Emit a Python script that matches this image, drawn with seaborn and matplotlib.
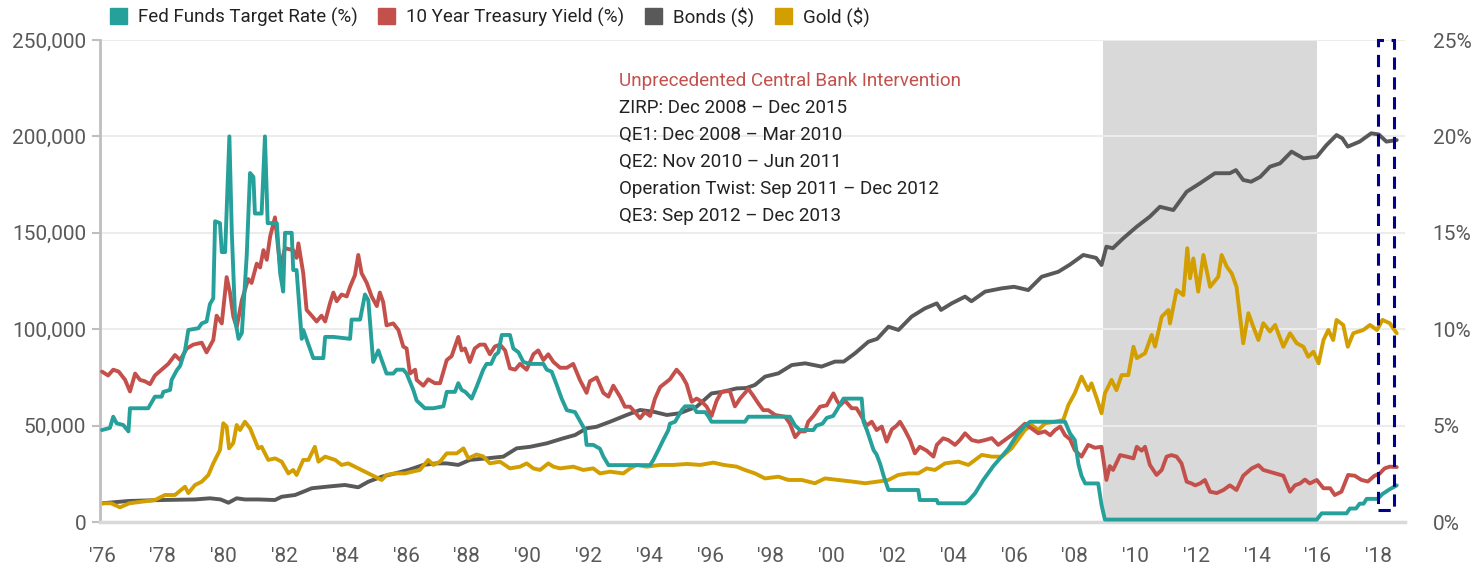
import numpy as np
import pandas as pd
import seaborn as sns
import matplotlib.pyplot as plt
from matplotlib.patches import Patch, Rectangle
from matplotlib.ticker import FuncFormatter

# ---- data (year as decimal) ----
fed_t = [1976.0, 1976.26, 1976.37, 1976.48, 1976.7, 1976.87, 1976.92, 1977.52, 1977.74, 1977.96,
         1978.02, 1978.24, 1978.29, 1978.46, 1978.57, 1978.73, 1978.84, 1979.17, 1979.28, 1979.44,
         1979.55, 1979.66, 1979.72, 1979.88, 1979.94, 1980.05, 1980.19, 1980.27, 1980.38, 1980.49,
         1980.6, 1980.76, 1980.87, 1980.98, 1981.03, 1981.25, 1981.36, 1981.45, 1981.75, 1981.86,
         1981.96, 1982.02, 1982.24, 1982.29, 1982.4, 1982.57, 1982.62, 1982.95, 1983.28, 1983.34,
         1983.61, 1984.16, 1984.21, 1984.49, 1984.65, 1984.76, 1984.92, 1985.09, 1985.2, 1985.36,
         1985.58, 1985.69, 1985.91, 1986.02, 1986.24, 1986.35, 1986.62, 1986.9, 1987.23, 1987.34,
         1987.61, 1987.72, 1987.83, 1987.95, 1988.16, 1988.32, 1988.54, 1988.65, 1988.8, 1988.93,
         1989.04, 1989.15, 1989.42, 1989.53, 1989.7, 1989.86, 1990.08, 1990.52, 1990.63, 1990.79,
         1990.96, 1991.12, 1991.29, 1991.56, 1991.72, 1991.89, 1991.94, 1992.16, 1992.38, 1992.49,
         1992.66, 1994.03, 1994.13, 1994.3, 1994.46, 1994.63, 1994.68, 1994.85, 1995.07, 1995.18,
         1995.45, 1995.56, 1995.84, 1995.94, 1996.05, 1997.15, 1997.26, 1998.63, 1998.8, 1998.96,
         1999.4, 1999.5, 1999.7, 1999.84, 2000.05, 2000.17, 2000.39, 2000.99, 2001.05, 2001.16,
         2001.27, 2001.38, 2001.48, 2001.6, 2001.71, 2001.87, 2002.85, 2002.9, 2003.46, 2003.5,
         2004.39, 2004.5, 2004.72, 2004.99, 2005.32, 2005.54, 2005.81, 2006.09, 2006.36, 2006.53,
         2007.68, 2007.84, 2008.0, 2008.12, 2008.22, 2008.34, 2008.77, 2008.88, 2008.99, 2015.96,
         2016.12, 2016.94, 2017.05, 2017.25, 2017.37, 2017.5, 2017.6, 2017.96, 2018.12, 2018.36,
         2018.59]
fed_rate = [4.77, 4.88, 5.46, 5.12, 5.03, 4.7, 5.9, 5.9, 6.5, 6.5,
            6.75, 6.85, 7.37, 7.87, 8.1, 8.9, 9.96, 10.05, 10.3, 10.4,
            11.3, 11.6, 15.6, 15.5, 14.0, 14.0, 20.0, 15.0, 10.5, 9.5,
            9.8, 13.8, 18.1, 17.9, 16.0, 16.0, 20.0, 15.5, 15.5, 12.9,
            11.95, 15.0, 15.0, 13.07, 13.07, 9.5, 9.96, 8.5, 8.5, 9.6,
            9.6, 9.5, 10.5, 10.5, 11.8, 11.5, 8.3, 8.9, 8.4, 7.7,
            7.7, 7.9, 7.9, 7.7, 6.85, 6.3, 5.9, 5.9, 6.0, 6.75,
            6.75, 7.2, 6.85, 6.75, 6.4, 7.0, 7.9, 8.2, 8.2, 8.65,
            8.8, 9.7, 9.7, 9.0, 8.8, 8.3, 8.2, 8.2, 7.9, 7.8,
            7.1, 6.4, 5.8, 5.7, 5.25, 4.77, 4.0, 4.0, 3.8, 3.4,
            2.95, 2.95, 3.2, 3.73, 4.25, 4.77, 5.1, 5.2, 5.8, 6.0,
            6.0, 5.7, 5.7, 5.5, 5.2, 5.2, 5.46, 5.46, 5.0, 4.77,
            4.77, 5.0, 5.1, 5.4, 5.5, 5.8, 6.4, 6.4, 5.2, 4.77,
            4.25, 3.73, 3.5, 3.0, 2.4, 1.66, 1.66, 1.14, 1.14, 0.97,
            0.97, 1.1, 1.49, 2.18, 2.9, 3.3, 3.8, 4.5, 5.0, 5.2,
            5.2, 4.6, 4.25, 3.0, 2.4, 2.0, 2.0, 0.88, 0.125, 0.125,
            0.45, 0.45, 0.7, 0.7, 0.95, 0.95, 1.2, 1.2, 1.45, 1.7,
            1.9]

tsy_t = [1976.0, 1976.2, 1976.37, 1976.55, 1976.76, 1976.92, 1977.09, 1977.25, 1977.41, 1977.58,
         1977.74, 1977.96, 1978.18, 1978.4, 1978.57, 1978.79, 1979.0, 1979.28, 1979.44, 1979.66,
         1979.77, 1979.94, 1980.1, 1980.21, 1980.32, 1980.43, 1980.6, 1980.81, 1980.92, 1981.09,
         1981.2, 1981.31, 1981.42, 1981.53, 1981.69, 1981.86, 1982.02, 1982.29, 1982.4, 1982.46,
         1982.62, 1982.73, 1982.9, 1983.06, 1983.22, 1983.34, 1983.5, 1983.61, 1983.72, 1983.88,
         1984.05, 1984.16, 1984.32, 1984.43, 1984.54, 1984.71, 1984.87, 1985.04, 1985.14, 1985.25,
         1985.36, 1985.58, 1985.75, 1985.91, 1986.02, 1986.13, 1986.3, 1986.35, 1986.57, 1986.73,
         1986.95, 1987.12, 1987.34, 1987.5, 1987.72, 1987.83, 1987.94, 1988.1, 1988.26, 1988.43,
         1988.59, 1988.76, 1988.92, 1989.09, 1989.26, 1989.42, 1989.59, 1989.75, 1989.97, 1990.19,
         1990.35, 1990.52, 1990.68, 1990.85, 1991.07, 1991.29, 1991.5, 1991.72, 1991.94, 1992.05,
         1992.27, 1992.49, 1992.66, 1992.82, 1993.04, 1993.2, 1993.37, 1993.53, 1993.7, 1993.86,
         1994.03, 1994.19, 1994.36, 1994.52, 1994.68, 1994.9, 1995.07, 1995.23, 1995.4, 1995.56,
         1995.73, 1995.89, 1996.05, 1996.22, 1996.38, 1996.65, 1996.82, 1996.99, 1997.26, 1997.4,
         1997.59, 1997.75, 1997.92, 1998.14, 1998.47, 1998.63, 1998.8, 1998.96, 1999.13, 1999.23,
         1999.4, 1999.62, 1999.84, 2000.06, 2000.17, 2000.28, 2000.44, 2000.66, 2000.82, 2000.99,
         2001.15, 2001.32, 2001.48, 2001.65, 2001.81, 2001.98, 2002.14, 2002.25, 2002.41, 2002.58,
         2002.74, 2002.9, 2003.13, 2003.35, 2003.46, 2003.67, 2003.84, 2004.06, 2004.22, 2004.39,
         2004.61, 2004.83, 2005.05, 2005.27, 2005.48, 2005.7, 2005.92, 2006.09, 2006.36, 2006.58,
         2006.8, 2007.02, 2007.19, 2007.35, 2007.52, 2007.68, 2007.84, 2008.0, 2008.22, 2008.44,
         2008.66, 2008.88, 2009.04, 2009.15, 2009.26, 2009.49, 2009.71, 2009.93, 2010.04, 2010.2,
         2010.31, 2010.47, 2010.69, 2010.86, 2011.02, 2011.18, 2011.35, 2011.51, 2011.68, 2011.84,
         2011.96, 2012.12, 2012.28, 2012.45, 2012.67, 2012.89, 2013.1, 2013.32, 2013.54, 2013.82,
         2014.04, 2014.2, 2014.42, 2014.64, 2014.86, 2015.08, 2015.24, 2015.41, 2015.57, 2015.73,
         2015.96, 2016.18, 2016.4, 2016.55, 2016.77, 2016.99, 2017.21, 2017.43, 2017.64, 2017.86,
         2018.02, 2018.19, 2018.36, 2018.59]
tsy_rate = [7.8, 7.6, 7.9, 7.8, 7.37, 6.77, 7.7, 7.37, 7.3, 7.15,
            7.6, 7.9, 8.2, 8.66, 8.4, 9.0, 9.2, 9.3, 8.8, 9.44,
            10.7, 10.3, 12.7, 11.9, 10.65, 10.1, 11.5, 12.6, 12.4, 13.4,
            13.2, 14.1, 13.6, 14.8, 15.8, 13.2, 14.2, 14.1, 13.7, 14.45,
            12.9, 11.0, 10.7, 10.4, 10.7, 10.4, 11.35, 11.9, 11.45, 11.8,
            11.7, 12.2, 12.8, 13.85, 12.9, 12.4, 11.7, 11.2, 11.9, 11.4,
            10.2, 10.3, 9.96, 9.1, 9.0, 7.7, 7.9, 7.37, 7.07, 7.4,
            7.2, 7.2, 8.4, 8.6, 9.6, 8.9, 9.0, 8.3, 9.0, 9.2,
            9.2, 8.7, 9.1, 9.2, 8.9, 7.97, 7.9, 8.2, 7.9, 8.7,
            8.9, 8.4, 8.7, 8.3, 8.0, 8.0, 8.2, 7.37, 6.7, 7.3,
            7.5, 6.7, 6.5, 7.07, 6.5, 5.98, 5.98, 5.7, 5.38, 5.7,
            5.5, 6.4, 7.0, 7.2, 7.4, 7.9, 7.6, 7.15, 6.24, 6.4,
            6.24, 5.98, 5.5, 6.3, 6.75, 6.8, 6.0, 6.4, 6.9, 6.6,
            6.15, 5.8, 5.8, 5.55, 5.46, 5.1, 4.4, 4.7, 4.7, 5.2,
            5.5, 5.98, 6.05, 6.67, 6.3, 6.05, 6.3, 5.9, 5.9, 5.46,
            5.0, 5.2, 4.77, 4.95, 4.17, 4.8, 5.0, 5.2, 4.77, 4.25,
            3.56, 3.9, 3.7, 3.39, 4.0, 4.34, 4.25, 4.0, 4.25, 4.6,
            4.25, 4.17, 4.25, 4.35, 4.0, 4.25, 4.5, 4.7, 5.1, 4.85,
            4.6, 4.7, 4.5, 4.77, 4.95, 4.5, 4.3, 3.73, 3.39, 4.0,
            3.85, 3.9, 2.18, 2.9, 2.7, 3.47, 3.39, 3.3, 3.9, 3.7,
            3.9, 2.96, 2.44, 2.7, 3.39, 3.47, 3.39, 3.04, 2.09, 2.0,
            1.9, 2.0, 2.18, 1.57, 1.5, 1.66, 1.9, 1.66, 2.4, 2.78,
            2.95, 2.7, 2.6, 2.5, 2.4, 1.57, 1.9, 2.0, 2.2, 2.0,
            2.18, 1.75, 1.75, 1.4, 1.57, 2.44, 2.4, 2.18, 2.1, 2.4,
            2.5, 2.78, 2.87, 2.85]

bonds_t = [1976.0, 1976.87, 1977.96, 1979.06, 1979.55, 1979.9, 1980.16, 1980.43, 1980.7, 1981.14,
           1981.69, 1981.91, 1982.35, 1982.62, 1982.9, 1983.45, 1983.99, 1984.43, 1984.76, 1985.2,
           1985.64, 1986.08, 1986.57, 1987.0, 1987.34, 1987.72, 1988.1, 1988.65, 1989.2, 1989.64,
           1990.08, 1990.63, 1991.17, 1991.56, 1991.94, 1992.27, 1992.71, 1993.26, 1993.7, 1994.14,
           1994.58, 1995.0, 1995.56, 1996.05, 1996.4, 1996.88, 1997.2, 1997.48, 1997.81, 1998.25,
           1998.69, 1999.13, 1999.67, 2000.11, 2000.4, 2000.77, 2001.21, 2001.5, 2001.87, 2002.2,
           2002.63, 2003.07, 2003.46, 2003.6, 2003.95, 2004.39, 2004.6, 2005.05, 2005.6, 2006.0,
           2006.47, 2006.91, 2007.46, 2007.84, 2008.28, 2008.7, 2008.88, 2009.04, 2009.25, 2009.59,
           2010.04, 2010.47, 2010.8, 2011.24, 2011.68, 2012.12, 2012.61, 2013.1, 2013.3, 2013.54,
           2013.8, 2014.1, 2014.42, 2014.75, 2015.13, 2015.52, 2015.96, 2016.28, 2016.61, 2016.8,
           2016.98, 2017.37, 2017.75, 2018.0, 2018.25, 2018.59]
bonds_k = [9.7, 10.9, 11.4, 11.7, 12.3, 11.7, 10.0, 12.3, 11.7, 11.7,
           11.4, 13.1, 14.0, 15.7, 17.5, 18.4, 19.2, 18.0, 20.9, 23.5,
           25.2, 27.0, 29.6, 30.4, 30.4, 29.6, 32.2, 33.0, 33.9, 38.2,
           39.0, 40.8, 43.4, 45.1, 48.6, 49.4, 52.0, 55.5, 58.1, 57.2,
           55.5, 56.4, 59.8, 66.7, 67.5, 69.3, 69.5, 71.1, 75.4, 77.1,
           81.4, 82.3, 80.6, 83.2, 83.2, 87.5, 93.5, 95.0, 101.3, 99.6,
           106.5, 110.8, 113.4, 110.0, 113.4, 116.9, 114.5, 119.5, 121.2, 122.0,
           120.3, 127.2, 129.8, 133.5, 138.5, 137.0, 133.3, 142.8, 142.0, 147.1,
           153.2, 158.4, 163.5, 161.8, 171.3, 175.7, 180.9, 180.9, 182.5, 177.4,
           176.5, 179.0, 184.3, 186.0, 192.1, 188.6, 189.4, 195.5, 200.7, 199.0,
           194.7, 197.3, 201.6, 201.0, 197.3, 198.1]

gold_t = [1976.0, 1976.3, 1976.59, 1976.9, 1977.3, 1977.74, 1978.07, 1978.4, 1978.73, 1978.84,
          1979.06, 1979.28, 1979.5, 1979.66, 1979.88, 1979.99, 1980.1, 1980.18, 1980.32, 1980.43,
          1980.54, 1980.7, 1980.87, 1981.03, 1981.14, 1981.25, 1981.47, 1981.69, 1981.91, 1982.13,
          1982.29, 1982.4, 1982.62, 1982.79, 1983.0, 1983.12, 1983.34, 1983.67, 1983.88, 1984.1,
          1984.43, 1984.65, 1984.98, 1985.2, 1985.36, 1985.64, 1985.97, 1986.2, 1986.46, 1986.73,
          1986.9, 1987.12, 1987.34, 1987.67, 1987.89, 1988.05, 1988.32, 1988.54, 1988.76, 1989.09,
          1989.42, 1989.75, 1989.97, 1990.19, 1990.41, 1990.68, 1990.85, 1991.07, 1991.5, 1991.83,
          1992.16, 1992.38, 1992.71, 1993.15, 1993.37, 1993.59, 1993.92, 1994.36, 1994.8, 1995.24,
          1995.68, 1996.11, 1996.45, 1996.88, 1997.15, 1997.48, 1997.81, 1998.25, 1998.58, 1999.02,
          1999.45, 1999.78, 2000.22, 2000.66, 2001.1, 2001.54, 2001.87, 2002.19, 2002.52, 2002.85,
          2003.13, 2003.4, 2003.73, 2004.17, 2004.5, 2004.94, 2005.27, 2005.6, 2005.92, 2006.36,
          2006.58, 2006.8, 2007.02, 2007.35, 2007.62, 2007.79, 2008.0, 2008.22, 2008.44, 2008.55,
          2008.72, 2008.88, 2008.99, 2009.21, 2009.37, 2009.54, 2009.76, 2009.93, 2010.04, 2010.31,
          2010.53, 2010.64, 2010.86, 2011.08, 2011.13, 2011.35, 2011.57, 2011.7, 2011.79, 2011.9,
          2012.06, 2012.23, 2012.45, 2012.72, 2012.83, 2013.0, 2013.16, 2013.32, 2013.54, 2013.71,
          2013.87, 2014.04, 2014.2, 2014.42, 2014.59, 2014.86, 2015.08, 2015.3, 2015.52, 2015.68,
          2015.85, 2016.02, 2016.18, 2016.34, 2016.5, 2016.61, 2016.83, 2016.98, 2017.16, 2017.49,
          2017.71, 2017.94, 2018.12, 2018.36, 2018.59]
gold_k = [9.7, 9.7, 7.6, 9.7, 10.5, 11.4, 14.0, 14.0, 18.3, 15.0,
          19.2, 20.9, 24.4, 30.4, 37.3, 51.2, 49.5, 38.2, 41.0, 50.3,
          47.7, 52.0, 48.6, 42.5, 38.2, 39.0, 32.2, 33.0, 31.3, 25.2,
          27.0, 24.4, 32.2, 32.2, 39.0, 31.3, 33.9, 32.2, 29.6, 30.4,
          27.8, 26.1, 23.5, 21.8, 24.4, 25.2, 25.2, 26.1, 27.0, 32.2,
          29.6, 31.3, 35.6, 35.6, 38.2, 33.0, 35.0, 34.0, 30.4, 31.3,
          27.8, 28.7, 30.4, 27.8, 27.0, 30.4, 28.7, 27.8, 28.7, 27.0,
          27.8, 25.2, 26.1, 25.2, 27.8, 29.6, 28.7, 29.6, 29.6, 30.1,
          29.6, 30.8, 29.6, 28.7, 27.0, 25.2, 22.6, 23.5, 21.8, 21.8,
          20.1, 22.6, 21.8, 21.0, 20.1, 21.0, 21.8, 24.4, 25.2, 25.2,
          27.8, 27.0, 30.4, 31.3, 29.6, 34.8, 33.9, 33.9, 38.2, 47.7,
          50.3, 47.7, 51.2, 52.0, 52.9, 60.7, 66.8, 75.4, 68.4, 71.9,
          64.2, 56.4, 66.7, 73.7, 68.4, 76.2, 76.2, 90.9, 85.0, 87.5,
          97.0, 91.0, 106.5, 109.9, 103.0, 120.3, 117.7, 142.0, 126.4, 136.7,
          119.5, 138.5, 122.0, 127.2, 138.5, 132.4, 129.0, 122.0, 92.7, 108.3,
          101.3, 94.4, 103.1, 98.8, 102.2, 90.9, 97.9, 92.7, 90.9, 85.7,
          88.3, 82.3, 94.4, 99.6, 94.4, 104.8, 102.2, 90.9, 97.9, 99.6,
          102.2, 99.6, 104.8, 103.1, 97.9]

zirp_start, zirp_end = 2008.92, 2015.96
box_start, box_end = 2017.96, 2018.5

years = list(range(1976, 2019, 2))
year_labels = ["'" + str(y)[2:] for y in years]

note_title = "Unprecedented Central Bank Intervention"
note_lines = ["ZIRP: Dec 2008 \u2013 Dec 2015",
              "QE1: Dec 2008 \u2013 Mar 2010",
              "QE2: Nov 2010 \u2013 Jun 2011",
              "Operation Twist: Sep 2011 \u2013 Dec 2012",
              "QE3: Sep 2012 \u2013 Dec 2013"]

series_names = ["Fed Funds Target Rate (%)", "10 Year Treasury Yield (%)", "Bonds ($)", "Gold ($)"]
series_colors = ["#26A09A", "#C4504C", "#595959", "#D29E00"]

# ---- style ----
sns.set_theme(style="white")
plt.rcParams['font.family'] = ['Roboto', 'DejaVu Sans']
tick_color = "#595959"

fig = plt.figure(figsize=(14.76, 5.65), dpi=100)
ax = fig.add_axes([100 / 1476, 43 / 565, 1305 / 1476, 482 / 565])
ax2 = ax.twinx()

ax.axvspan(zirp_start, zirp_end, color="#d9d9d9", zorder=0.2, lw=0)

lw = 2.8
sns.lineplot(x=bonds_t, y=np.array(bonds_k) * 1000, ax=ax, color=series_colors[2],
             linewidth=lw, estimator=None, sort=False, legend=False)
sns.lineplot(x=gold_t, y=np.array(gold_k) * 1000, ax=ax, color=series_colors[3],
             linewidth=lw, estimator=None, sort=False, legend=False)
sns.lineplot(x=tsy_t, y=tsy_rate, ax=ax2, color=series_colors[1],
             linewidth=lw, estimator=None, sort=False, legend=False)
sns.lineplot(x=fed_t, y=fed_rate, ax=ax2, color=series_colors[0],
             linewidth=lw, estimator=None, sort=False, legend=False)

ax2.add_patch(Rectangle((box_start, 0.62), box_end - box_start, 25 - 0.62, fill=False,
                        edgecolor="#00008B", linewidth=2.2, linestyle=(0, (4, 2.5)),
                        zorder=10, clip_on=False))

ax.set_xlim(1975.934, 2018.862)
ax.set_ylim(0, 250000)
ax2.set_ylim(0, 25)
ax.set_yticks(np.arange(0, 250001, 50000))
ax2.set_yticks(np.arange(0, 26, 5))
ax.yaxis.set_major_formatter(FuncFormatter(lambda v, p: f"{v:,.0f}"))
ax2.yaxis.set_major_formatter(FuncFormatter(lambda v, p: f"{v:.0f}%"))
ax.set_xticks(years)
ax.set_xticklabels(year_labels)

ax.set_axisbelow(True)
ax.yaxis.grid(True, color="#ececec", linewidth=1.5)
ax.xaxis.grid(False)
ax2.grid(False)

for s in ["top", "right"]:
    ax.spines[s].set_visible(False)
for s in ["top", "right", "left", "bottom"]:
    ax2.spines[s].set_visible(False)
ax.spines["left"].set_color("#bfbfbf")
ax.spines["left"].set_linewidth(2)
ax.spines["bottom"].set_color("#d9d9d9")
ax.spines["bottom"].set_linewidth(2.5)

ax.tick_params(axis="y", which="major", left=True, length=6, width=1.5, color="#bfbfbf",
               labelsize=15, labelcolor=tick_color, pad=4)
ax.tick_params(axis="x", bottom=False, labelsize=15, labelcolor=tick_color, pad=12)
ax2.tick_params(axis="y", right=False, labelsize=15, labelcolor=tick_color, pad=14)

# annotation block
ax.text(0.398, 0.915, note_title, transform=ax.transAxes, color="#C4504C",
        fontsize=13.6, va="center", ha="left")
for i, line in enumerate(note_lines):
    ax.text(0.398, 0.915 - (i + 1) * 27 / 482, line, transform=ax.transAxes,
            color="#222222", fontsize=13.5, va="center", ha="left")

handles = [Patch(facecolor=c, edgecolor=c) for c in series_colors]
fig.legend(handles, series_names, loc="center left", bbox_to_anchor=(93 / 1476, 1 - 17 / 565),
           ncol=4, frameon=False, fontsize=13.5, handlelength=0.9, handleheight=0.9,
           handletextpad=0.6, columnspacing=1.1, labelcolor="#222222")

fig.savefig("out.png", dpi=100)
